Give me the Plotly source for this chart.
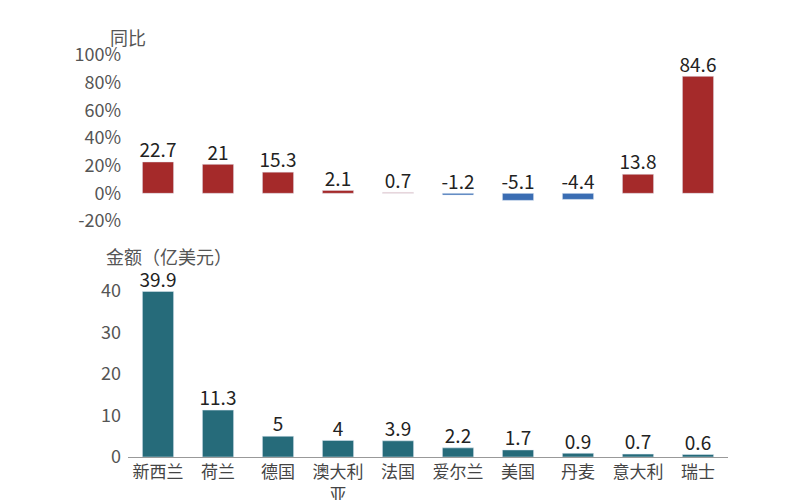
import plotly.graph_objects as go

countries = ["新西兰", "荷兰", "德国", "澳大利<br>亚", "法国", "爱尔兰", "美国", "丹麦", "意大利", "瑞士"]
yoy = [22.7, 21, 15.3, 2.1, 0.7, -1.2, -5.1, -4.4, 13.8, 84.6]
amount = [39.9, 11.3, 5, 4, 3.9, 2.2, 1.7, 0.9, 0.7, 0.6]

font = "Noto Sans CJK SC"
red, blue, teal = "#a52a2a", "#3a6db3", "#266b7a"
ycolors = [red if v >= 0 else blue for v in yoy]
ycolors[4] = "#e0a0a0"

L, R, T, B = 120, 80, 40, 45
W, H = 800, 500
ph = H - T - B
def py(p): return (H - B - p) / ph
def px(p): return (p - L) / (W - L - R)

tf = dict(size=19, color="#222")
fig = go.Figure()
fig.add_bar(x=countries, y=yoy, marker_color=ycolors, width=0.52, xaxis="x", yaxis="y")
fig.add_scatter(x=countries, y=[max(v, 0) for v in yoy], mode="text", text=[str(v) for v in yoy],
                textposition="top center", textfont=tf, cliponaxis=False, xaxis="x", yaxis="y")
fig.add_bar(x=countries, y=amount, marker_color=teal, width=0.52, xaxis="x2", yaxis="y2")
fig.add_scatter(x=countries, y=amount, mode="text", text=[str(v) for v in amount],
                textposition="top center", textfont=tf, cliponaxis=False, xaxis="x2", yaxis="y2")

fig.update_layout(
    width=W, height=H, margin=dict(l=L, r=R, t=T, b=B, autoexpand=False), showlegend=False,
    plot_bgcolor="white", paper_bgcolor="white", font=dict(family=font, color="#555"),
    xaxis=dict(domain=[0, 1], anchor="y", showticklabels=False, showline=False, showgrid=False, automargin=False),
    yaxis=dict(domain=[py(213), py(47)], range=[-20, 100], tickvals=[-20, 0, 20, 40, 60, 80, 100],
               ticktext=["-20%", "0%", "20%", "40%", "60%", "80%", "100%"], showgrid=False,
               zeroline=False, tickfont=dict(size=18, color="#555"), ticks="", ticklabelstandoff=6, automargin=False),
    xaxis2=dict(domain=[0, 1], anchor="y2", showline=True, linecolor="#999", showgrid=False,
                tickfont=dict(size=17, color="#444"), ticks="", automargin=False),
    yaxis2=dict(domain=[py(449), py(449 - 166 * 44 / 40)], range=[0, 44], tickvals=[0, 10, 20, 30, 40],
                showgrid=False, zeroline=False, tickfont=dict(size=18, color="#555"), ticks="",
                ticklabelstandoff=6, automargin=False),
)
fig.add_annotation(text="同比", x=px(100), y=py(14), xref="paper", yref="paper", showarrow=False,
                   font=dict(size=18, color="#555"))
fig.add_annotation(text="金额（亿美元）", x=px(96), y=py(248), xref="paper", yref="paper",
                   showarrow=False, font=dict(size=18, color="#555"))
fig.write_html("out.html")
